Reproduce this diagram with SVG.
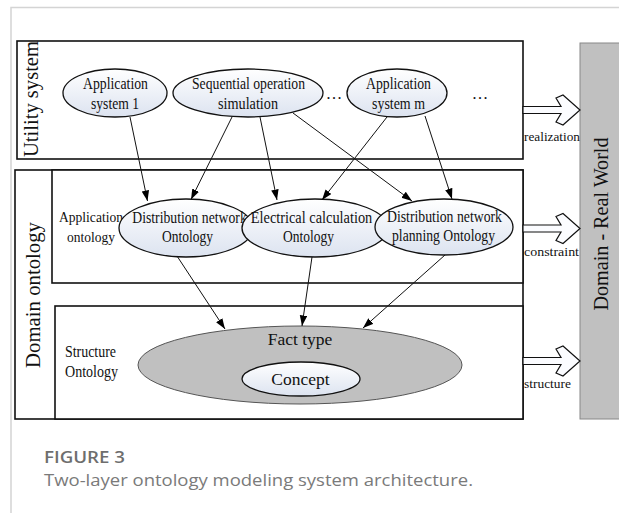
<svg xmlns="http://www.w3.org/2000/svg" width="619" height="513" viewBox="0 0 619 513">
  <defs>
    <linearGradient id="pale" x1="0" y1="0" x2="0" y2="1">
      <stop offset="0" stop-color="#ffffff"/>
      <stop offset="1" stop-color="#dce3f0"/>
    </linearGradient>
    <marker id="arrow" markerUnits="userSpaceOnUse" markerWidth="11" markerHeight="8" refX="10.5" refY="3.75" orient="auto">
      <path d="M0,0 L10.5,3.75 L0,7.5 z" fill="#000"/>
    </marker>
    <style>
      .frame { stroke: #d4d4d4; stroke-width: 1.5; fill: none; }
      .box { fill: #fff; stroke: #111; stroke-width: 1.6; }
      .node { fill: url(#pale); stroke: #111; stroke-width: 1.3; }
      .fact { fill: #c0c0c0; stroke: #555; stroke-width: 1; }
      .serif { font-family: "Liberation Serif", "Times New Roman", serif; fill: #111; }
      .lbl { font-size: 16.5px; text-anchor: middle; }
      .big { font-size: 20px; text-anchor: middle; }
      .small { font-size: 13px; }
      .edge { stroke: #111; stroke-width: 1; fill: none; marker-end: url(#arrow); }
      .hollow { fill: #fbfcff; stroke: #111; stroke-width: 1.2; stroke-linejoin: miter; }
      .cap { font-family: "Open Sans", "Noto Sans", sans-serif; }
    </style>
  </defs>

  <!-- page frame -->
  <path class="frame" d="M11,513 V7.5 H619"/>

  <!-- layer boxes -->
  <g id="utility-layer">
    <rect class="box" x="17" y="41" width="506" height="118"/>
    <text class="serif big" transform="translate(38,99) rotate(-90)" textLength="116" lengthAdjust="spacingAndGlyphs">Utility system</text>
  </g>
  <g id="domain-layer">
    <rect class="box" x="15" y="170" width="508" height="249"/>
    <text class="serif big" transform="translate(40,295) rotate(-90)" textLength="146" lengthAdjust="spacingAndGlyphs">Domain ontology</text>
  </g>
  <g id="application-ontology">
    <rect class="box" x="52" y="170" width="471" height="113"/>
    <text class="serif" font-size="15.5" text-anchor="middle" x="91" y="222" textLength="64" lengthAdjust="spacingAndGlyphs">Application</text>
    <text class="serif" font-size="15.5" text-anchor="middle" x="91" y="242" textLength="48" lengthAdjust="spacingAndGlyphs">ontology</text>
  </g>
  <g id="structure-ontology">
    <rect class="box" x="55" y="306" width="468" height="113"/>
    <text class="serif" font-size="16" x="65" y="357" textLength="51" lengthAdjust="spacingAndGlyphs">Structure</text>
    <text class="serif" font-size="16" x="65" y="377" textLength="53" lengthAdjust="spacingAndGlyphs">Ontology</text>
  </g>

  <!-- real world side -->
  <g id="real-world">
    <rect x="580" y="43" width="45" height="376" fill="#c0c0c0" stroke="#888" stroke-width="1"/>
    <text class="serif big" transform="translate(608,224) rotate(-90)" textLength="173" lengthAdjust="spacingAndGlyphs">Domain - Real World</text>
  </g>

  <!-- utility system nodes -->
  <g id="app-system-1">
    <ellipse class="node" cx="115" cy="93" rx="52" ry="24"/>
    <text class="serif lbl" x="115.5" y="89" textLength="65" lengthAdjust="spacingAndGlyphs">Application</text>
    <text class="serif lbl" x="115" y="109" textLength="48" lengthAdjust="spacingAndGlyphs">system 1</text>
  </g>
  <g id="sequential-simulation">
    <ellipse class="node" cx="248" cy="93" rx="75" ry="24"/>
    <text class="serif lbl" x="248.5" y="89" textLength="113" lengthAdjust="spacingAndGlyphs">Sequential operation</text>
    <text class="serif lbl" x="248" y="109" textLength="60" lengthAdjust="spacingAndGlyphs">simulation</text>
  </g>
  <g id="ellipsis-1">
    <text class="serif lbl" x="334" y="99">…</text>
  </g>
  <g id="app-system-m">
    <ellipse class="node" cx="397" cy="93" rx="50" ry="24"/>
    <text class="serif lbl" x="398.5" y="89" textLength="65" lengthAdjust="spacingAndGlyphs">Application</text>
    <text class="serif lbl" x="398.5" y="109" textLength="53" lengthAdjust="spacingAndGlyphs">system m</text>
  </g>
  <g id="ellipsis-2">
    <text class="serif lbl" x="480" y="99">…</text>
  </g>

  <!-- application ontology nodes (condensed first lines) -->
  <g id="distribution-network">
    <ellipse class="node" cx="186" cy="228" rx="67" ry="29"/>
    <text class="serif lbl" transform="translate(189.5,223) scale(0.83,1)">Distribution network</text>
    <text class="serif lbl" x="187.5" y="242" textLength="51" lengthAdjust="spacingAndGlyphs">Ontology</text>
  </g>
  <g id="electrical-calculation">
    <ellipse class="node" cx="315" cy="228" rx="73" ry="29"/>
    <text class="serif lbl" transform="translate(311.5,223) scale(0.87,1)">Electrical calculation</text>
    <text class="serif lbl" x="308.5" y="242" textLength="51" lengthAdjust="spacingAndGlyphs">Ontology</text>
  </g>
  <g id="network-planning">
    <ellipse class="node" cx="444" cy="227" rx="69" ry="28"/>
    <text class="serif lbl" x="444.5" y="222" textLength="115" lengthAdjust="spacingAndGlyphs">Distribution network</text>
    <text class="serif lbl" x="443.5" y="241" textLength="103" lengthAdjust="spacingAndGlyphs">planning Ontology</text>
  </g>

  <!-- structure ontology nodes -->
  <g id="fact-type">
    <ellipse class="fact" cx="300" cy="365" rx="162" ry="39"/>
    <text class="serif" font-size="17.5" text-anchor="middle" x="300" y="345">Fact type</text>
  </g>
  <g id="concept">
    <ellipse class="node" cx="301" cy="379" rx="59" ry="17"/>
    <text class="serif" font-size="17.5" text-anchor="middle" x="300.5" y="385">Concept</text>
  </g>

  <!-- connectors -->
  <g id="connectors">
    <line class="edge" x1="130" y1="117" x2="147.5" y2="201"/>
    <line class="edge" x1="232" y1="117" x2="191" y2="199.5"/>
    <line class="edge" x1="260" y1="117" x2="277" y2="200"/>
    <line class="edge" x1="293" y1="113" x2="412" y2="201"/>
    <line class="edge" x1="387" y1="117" x2="322" y2="200"/>
    <line class="edge" x1="425" y1="116" x2="452" y2="199"/>
    <line class="edge" x1="177" y1="256" x2="225" y2="329"/>
    <line class="edge" x1="312" y1="257" x2="302" y2="326"/>
    <line class="edge" x1="445" y1="255" x2="363" y2="328"/>

    <!-- block arrows toward the real world -->
    <polygon class="hollow" points="523,106.5 561,106.5 556,98 563,95 580,110 563,125 556,122 561,113.5 523,113.5"/>
    <polygon class="hollow" points="523,225 561,225 556,216.5 563,213.5 580,228.5 563,243.5 556,240.5 561,232 523,232"/>
    <polygon class="hollow" points="523,357.5 561,357.5 556,349 563,346 580,361 563,376 556,373 561,364.5 523,364.5"/>
    <text class="serif small" x="524" y="141" textLength="56" lengthAdjust="spacingAndGlyphs">realization</text>
    <text class="serif small" x="524" y="256" textLength="55" lengthAdjust="spacingAndGlyphs">constraint</text>
    <text class="serif small" x="524" y="388" textLength="47" lengthAdjust="spacingAndGlyphs">structure</text>
  </g>

  <!-- caption -->
  <text class="cap" x="44" y="463" font-size="16" font-weight="600" fill="#6e6e6e" textLength="81" lengthAdjust="spacingAndGlyphs">FIGURE 3</text>
  <text class="cap" x="44" y="486" font-size="16" fill="#7a7a7a" textLength="429" lengthAdjust="spacingAndGlyphs">Two-layer ontology modeling system architecture.</text>
</svg>
